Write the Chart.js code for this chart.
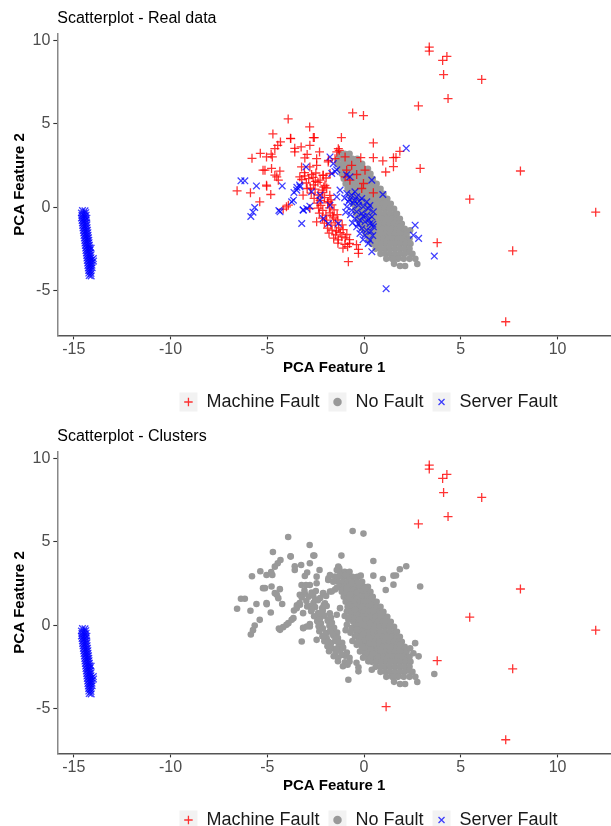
<!DOCTYPE html>
<html>
<head>
<meta charset="utf-8">
<script src="https://cdn.jsdelivr.net/npm/chart.js@4"></script>
<style>
  html, body { margin: 0; padding: 0; background: #fff; }
  body { width: 611px; height: 826px; position: relative; overflow: hidden; }
  canvas { position: absolute; left: 0; }
  #chartReal { top: 0; }
  #chartClusters { top: 418px; }
</style>
</head>
<body>
<canvas id="chartReal" width="611" height="421"></canvas>
<canvas id="chartClusters" width="611" height="421"></canvas>
<script>
// ---- datos (PCA Feature 1, PCA Feature 2) ----
const xTicks = [-15, -10, -5, 0, 5, 10];
const yTicks = [-5, 0, 5, 10];
const legendLabels = ['Machine Fault', 'No Fault', 'Server Fault'];

// fallos de maquina lejanos (rojos en los dos graficos)
const machineOut = [
  [3.37, 9.60], [3.37, 9.36], [4.28, 9.04], [4.06, 8.80], [4.11, 7.95], [6.08, 7.66],
  [4.34, 6.51], [2.81, 6.07], [8.08, 2.17], [5.46, 0.48], [11.97, -0.30], [3.78, -2.13],
  [7.68, -2.62], [7.32, -6.87]
];

// fallos de maquina dispersos cerca del centro
const machineSpread = [
  [-3.92, 5.29], [-2.81, 4.81], [-4.71, 4.39], [-2.57, 4.17], [-3.80, 4.13], [-4.32, 3.91],
  [-4.46, 3.71], [-3.25, 3.61], [-3.58, 3.53], [-2.80, 3.71], [-4.61, 3.51], [-5.36, 3.23],
  [-3.58, 3.31], [-2.94, 3.16], [-2.30, 3.31], [-5.79, 2.93], [-5.04, 3.01], [-4.74, 3.01],
  [-4.80, 3.18], [-3.06, 2.95], [-2.45, 2.91], [-1.85, 2.71], [-1.28, 3.41], [-5.22, 2.22],
  [-4.78, 2.32], [-4.35, 2.16], [-3.23, 2.41], [-2.80, 2.41], [-2.45, 2.51], [-4.61, 1.92],
  [-3.32, 1.82], [-3.06, 1.88], [-2.11, 1.92], [-1.76, 2.02], [-6.56, 0.98], [-5.87, 0.86],
  [-5.04, 1.32], [-4.82, 0.76], [-5.39, 0.32], [-4.01, 0.02], [-4.18, -0.12], [-3.15, 0.72],
  [-2.94, 1.12], [-2.80, -0.08], [-2.45, -0.88], [-0.59, 5.65], [-0.03, 5.49], [-1.17, 4.17],
  [0.48, 3.85], [-1.33, 3.51], [-0.17, 2.97], [0.48, 2.97], [0.97, 2.77], [1.85, 3.35],
  [1.65, 2.98], [1.52, 2.43], [2.90, 2.32], [1.12, 2.11], [-0.64, 2.51], [0.05, 2.22],
  [-0.38, 1.96], [-0.90, 2.22], [-0.98, 1.82], [-0.73, 1.62], [-0.03, 1.42], [-0.12, 1.12],
  [0.48, 0.86], [-1.50, 2.91], [-0.98, 3.01], [-1.84, 2.81], [-1.41, 3.31], [1.52, 2.97],
  [-0.81, -3.27], [-0.29, -2.53], [-0.29, -2.77], [-2.62, 4.17], [-3.79, 4.11], [-5.12, 2.22],
  [-4.43, 1.62], [-4.51, 1.82], [-3.91, 0.12], [-5.03, 1.26]
];

// banda densa de fallos de maquina
const machineBand = [
  [-3.08, 2.07], [-2.71, 1.96], [-2.49, 2.05], [-2.12, 1.91],
  [-3.22, 1.66], [-2.86, 1.71], [-2.63, 1.79], [-2.27, 1.62], [-1.96, 1.75],
  [-2.98, 1.45], [-2.61, 1.34], [-2.38, 1.49], [-2.02, 1.31],
  [-2.77, 1.14], [-2.53, 1.08], [-2.16, 1.02], [-1.93, 1.15],
  [-2.73, 0.84], [-2.37, 0.73], [-2.13, 0.88], [-1.77, 0.71],
  [-2.58, 0.53], [-2.27, 0.41], [-2.04, 0.57], [-1.71, 0.44],
  [-2.42, 0.24], [-2.23, 0.11], [-1.88, 0.26], [-1.66, 0.14],
  [-2.35, -0.06], [-2.13, -0.19], [-1.79, -0.04], [-1.55, -0.16],
  [-2.31, -0.36], [-1.97, -0.48], [-1.75, -0.34], [-1.39, -0.45],
  [-2.15, -0.66], [-1.93, -0.78], [-1.58, -0.64], [-1.35, -0.77],
  [-2.05, -0.96], [-1.71, -1.08], [-1.49, -0.94], [-1.13, -1.06],
  [-1.89, -1.26], [-1.65, -1.38], [-1.31, -1.24], [-1.08, -1.35],
  [-1.81, -1.56], [-1.47, -1.66], [-1.23, -1.53], [-0.89, -1.64],
  [-1.57, -1.86], [-1.33, -1.96], [-0.97, -1.84], [-0.75, -1.95],
  [-1.35, -2.16], [-0.99, -2.23], [-0.75, -2.18], [-0.39, -2.25],
  [-1.09, -2.46], [-0.85, -2.37], [-2.52, 1.55], [-2.08, 1.21], [-1.86, 0.33],
  [-1.64, -0.52], [-1.42, -1.43], [-1.15, -1.78]
];

// fallos de servidor cerca del centro (azules arriba, grises abajo)
const serverSpread = [
  [-6.36, 1.58], [-6.16, 1.58], [-5.56, 1.27], [-4.23, 1.27], [-3.47, 1.19], [-3.62, 0.88],
  [-3.33, 1.32], [-3.74, 0.32], [-5.65, -0.02], [-5.74, -0.30], [-5.85, -0.56], [-4.40, -0.20],
  [-3.15, -0.16], [-2.80, 0.06], [-3.22, -0.98], [-3.00, 2.41], [-1.76, 3.01], [-1.59, 2.61],
  [-1.67, 2.02], [-1.50, 2.14], [-1.41, 2.24], [-0.90, 1.94], [-0.73, 1.82], [0.40, 1.62],
  [0.97, 0.76], [2.18, 3.53], [2.64, -1.08], [2.55, -1.68], [2.82, -1.87], [3.63, -2.93],
  [0.40, -2.67], [0.45, -1.02], [-2.28, 0.42], [-2.11, -0.68], [-1.76, 0.12], [-2.71, 0.92],
  [-1.33, -0.98], [-3.31, 1.22], [-3.48, 1.02], [-3.65, 0.42], [-4.34, -0.28], [-2.96, -0.08],
  [-3.14, -0.18], [-2.27, 0.72], [-1.84, -0.98], [-1.41, 0.62], [-1.24, 1.02]
];

const serverBand = [
  [-0.89, 0.82], [-0.64, 0.72], [-0.38, 0.62], [-0.12, 0.52], [-0.81, 0.32], [-0.55, 0.22],
  [-0.29, 0.12], [-0.04, 0.02], [0.22, -0.08], [-0.64, -0.18], [-0.38, -0.28], [-0.12, -0.38],
  [0.14, -0.48], [0.40, -0.58], [-0.47, -0.68], [-0.21, -0.78], [0.05, -0.88], [0.31, -0.98],
  [-0.38, -1.18], [-0.12, -1.28], [0.14, -1.38], [-0.21, -1.58], [0.05, -1.68], [0.31, -1.98],
  [0.22, -2.17], [-0.47, 0.92], [0.14, 0.32], [0.48, -0.28], [-0.89, 0.02], [0.48, -1.18],
  [-1.00, 0.55], [-0.75, 0.45], [-0.50, 0.40], [-0.25, 0.35], [0.30, 0.10], [-0.95, -0.30],
  [-0.70, -0.45], [-0.05, -0.55], [0.25, -0.75], [-0.60, -0.95], [-0.30, -1.00], [0.35, -1.45],
  [-0.05, -1.95], [0.45, -1.70]
];

// servidor que en el grafico de clusters pasa a maquina
const serverOdd = [[1.14, -4.89]];

// grupo de servidor a la izquierda
const serverLeft = [
  [-14.55, -0.20], [-14.42, -0.22],
  [-14.60, -0.35], [-14.48, -0.37], [-14.38, -0.33],
  [-14.58, -0.50], [-14.46, -0.52], [-14.36, -0.48],
  [-14.60, -0.65], [-14.50, -0.67], [-14.40, -0.63], [-14.32, -0.66],
  [-14.57, -0.80], [-14.47, -0.82], [-14.37, -0.78],
  [-14.55, -0.95], [-14.44, -0.97], [-14.34, -0.93],
  [-14.54, -1.10], [-14.43, -1.12], [-14.33, -1.08],
  [-14.52, -1.25], [-14.41, -1.27], [-14.31, -1.23],
  [-14.50, -1.40], [-14.39, -1.42], [-14.29, -1.38],
  [-14.48, -1.55], [-14.37, -1.57], [-14.27, -1.53],
  [-14.47, -1.70], [-14.36, -1.72], [-14.26, -1.68],
  [-14.45, -1.85], [-14.34, -1.87], [-14.24, -1.83],
  [-14.43, -2.00], [-14.32, -2.02], [-14.22, -1.98],
  [-14.42, -2.15], [-14.31, -2.17], [-14.21, -2.13],
  [-14.40, -2.30], [-14.29, -2.32], [-14.19, -2.28],
  [-14.38, -2.45], [-14.27, -2.47], [-14.17, -2.43], [-14.10, -2.46],
  [-14.37, -2.60], [-14.26, -2.62], [-14.16, -2.58],
  [-14.35, -2.75], [-14.24, -2.77], [-14.14, -2.73],
  [-14.33, -2.90], [-14.22, -2.92], [-14.12, -2.88],
  [-14.32, -3.05], [-14.21, -3.07], [-14.11, -3.03], [-13.99, -3.08],
  [-14.30, -3.20], [-14.19, -3.22], [-14.09, -3.18], [-13.98, -3.23],
  [-14.28, -3.35], [-14.17, -3.37], [-14.07, -3.33],
  [-14.27, -3.50], [-14.16, -3.52], [-14.06, -3.48],
  [-14.25, -3.65], [-14.14, -3.67], [-14.05, -3.63],
  [-14.23, -3.80], [-14.12, -3.82],
  [-14.22, -3.95], [-14.11, -3.97],
  [-14.20, -4.10], [-14.10, -4.12]
];

// sin fallo: nube gris
const noFault = [
  [-1.25, 3.2], [-1.0, 3.2], [-0.75, 3.2],
  [-1.35, 2.9], [-1.1, 2.9], [-0.85, 2.9], [-0.6, 2.9], [-0.35, 2.9],
  [-1.35, 2.6], [-1.1, 2.6], [-0.85, 2.6], [-0.6, 2.6], [-0.35, 2.6], [-0.1, 2.6],
  [-1.25, 2.3], [-1.0, 2.3], [-0.75, 2.3], [-0.5, 2.3], [-0.25, 2.3], [0.0, 2.3], [0.2, 2.3],
  [-1.15, 2.0], [-0.9, 2.0], [-0.65, 2.0], [-0.4, 2.0], [-0.15, 2.0], [0.1, 2.0], [0.33, 2.0],
  [-1.05, 1.7], [-0.8, 1.7], [-0.55, 1.7], [-0.3, 1.7], [-0.05, 1.7], [0.2, 1.7], [0.45, 1.7],
  [-0.95, 1.4], [-0.7, 1.4], [-0.45, 1.4], [-0.2, 1.4], [0.05, 1.4], [0.3, 1.4], [0.55, 1.4], [0.65, 1.4],
  [-0.85, 1.1], [-0.6, 1.1], [-0.35, 1.1], [-0.1, 1.1], [0.15, 1.1], [0.4, 1.1], [0.65, 1.1], [0.85, 1.1],
  [-0.75, 0.8], [-0.5, 0.8], [-0.25, 0.8], [0.0, 0.8], [0.25, 0.8], [0.5, 0.8], [0.75, 0.8], [1.0, 0.8],
  [-0.65, 0.5], [-0.4, 0.5], [-0.15, 0.5], [0.1, 0.5], [0.35, 0.5], [0.6, 0.5], [0.85, 0.5], [1.1, 0.5], [1.2, 0.5],
  [-0.55, 0.2], [-0.3, 0.2], [-0.05, 0.2], [0.2, 0.2], [0.45, 0.2], [0.7, 0.2], [0.95, 0.2], [1.2, 0.2], [1.38, 0.2],
  [-0.45, -0.1], [-0.2, -0.1], [0.05, -0.1], [0.3, -0.1], [0.55, -0.1], [0.8, -0.1], [1.05, -0.1], [1.3, -0.1], [1.55, -0.1],
  [-0.4, -0.4], [-0.15, -0.4], [0.1, -0.4], [0.35, -0.4], [0.6, -0.4], [0.85, -0.4], [1.1, -0.4], [1.35, -0.4], [1.6, -0.4], [1.7, -0.4],
  [-0.3, -0.7], [-0.05, -0.7], [0.2, -0.7], [0.45, -0.7], [0.7, -0.7], [0.95, -0.7], [1.2, -0.7], [1.45, -0.7], [1.7, -0.7], [1.85, -0.7],
  [-0.2, -1.0], [0.05, -1.0], [0.3, -1.0], [0.55, -1.0], [0.8, -1.0], [1.05, -1.0], [1.3, -1.0], [1.55, -1.0], [1.8, -1.0], [1.95, -1.0],
  [-0.05, -1.3], [0.2, -1.3], [0.45, -1.3], [0.7, -1.3], [0.95, -1.3], [1.2, -1.3], [1.45, -1.3], [1.7, -1.3], [1.95, -1.3], [2.1, -1.3],
  [0.1, -1.6], [0.35, -1.6], [0.6, -1.6], [0.85, -1.6], [1.1, -1.6], [1.35, -1.6], [1.6, -1.6], [1.85, -1.6], [2.1, -1.6], [2.2, -1.6],
  [0.25, -1.9], [0.5, -1.9], [0.75, -1.9], [1.0, -1.9], [1.25, -1.9], [1.5, -1.9], [1.75, -1.9], [2.0, -1.9], [2.25, -1.9], [2.35, -1.9],
  [0.4, -2.2], [0.65, -2.2], [0.9, -2.2], [1.15, -2.2], [1.4, -2.2], [1.65, -2.2], [1.9, -2.2], [2.15, -2.2], [2.4, -2.2],
  [0.6, -2.5], [0.85, -2.5], [1.1, -2.5], [1.35, -2.5], [1.6, -2.5], [1.85, -2.5], [2.1, -2.5], [2.35, -2.5],
  [0.85, -2.8], [1.1, -2.8], [1.35, -2.8], [1.6, -2.8], [1.85, -2.8], [2.1, -2.8], [2.34, -2.73], [2.5, -2.8],
  [1.15, -3.1], [1.45, -3.1], [1.75, -3.1], [2.05, -3.1], [2.35, -3.1], [2.65, -3.1],
  [1.52, -3.13], [1.55, -3.4], [1.86, -3.53], [2.12, -3.53], [2.75, -3.41],
  [1.86, -1.18], [2.38, -1.38]
];

// ---- estilos ----
Chart.defaults.font.family = "'Liberation Sans', Arial, sans-serif";

const redPlus = {
  pointStyle: 'cross', pointRadius: 4.5, pointBorderWidth: 1.3,
  borderColor: 'rgba(255,0,0,0.8)', backgroundColor: 'rgba(255,0,0,0.8)'
};
const blueX = {
  pointStyle: 'crossRot', pointRadius: 4.7, pointBorderWidth: 1.3,
  borderColor: 'rgba(0,0,255,0.75)', backgroundColor: 'rgba(0,0,255,0.75)'
};
const greyDot = {
  pointStyle: 'circle', pointRadius: 3.3, pointBorderWidth: 0,
  borderColor: '#999999', backgroundColor: '#999999'
};

function scatterSet(label, pairs, style) {
  return Object.assign({
    label: label,
    data: pairs.map(p => ({ x: p[0], y: p[1] }))
  }, style);
}

// fondo gris de las claves de la leyenda y centrado como en ggplot
const legendKeys = {
  id: 'legendKeys',
  afterLayout(chart) {
    chart.legend.left += 63;
    chart.legend.right += 63;
  },
  beforeDraw(chart) {
    const ctx = chart.ctx;
    ctx.save();
    ctx.fillStyle = '#F2F2F2';
    chart.legend.legendHitBoxes.forEach(h => {
      ctx.fillRect(h.left, h.top - 0.5, 18, 19);
    });
    ctx.restore();
  }
};

function makeChart(id, title, datasets) {
  const ctx = document.getElementById(id).getContext('2d');
  return new Chart(ctx, {
    type: 'scatter',
    data: { datasets: datasets },
    plugins: [legendKeys],
    options: {
      responsive: false,
      animation: false,
      devicePixelRatio: 1,
      events: [],
      layout: { autoPadding: false, padding: 0 },
      scales: {
        x: {
          type: 'linear', position: 'bottom', min: -15.85, max: 12.76,
          afterBuildTicks: s => { s.ticks = xTicks.map(v => ({ value: v })); },
          afterFit: s => { s.height = 48.6; },
          grid: { drawOnChartArea: false, drawTicks: true, tickLength: 4, tickColor: '#333333', tickWidth: 1.1 },
          border: { display: true, color: '#555555', width: 1.5 },
          ticks: { color: '#4D4D4D', font: { size: 16 }, padding: 1, maxRotation: 0, autoSkip: false },
          title: { display: true, text: 'PCA Feature 1', color: '#000', font: { size: 15, weight: 'bold' }, padding: { top: 0, bottom: 7 } }
        },
        y: {
          type: 'linear', position: 'left', min: -7.69, max: 10.42,
          afterBuildTicks: s => { s.ticks = yTicks.map(v => ({ value: v })); },
          afterFit: s => { s.width = 57.3; },
          grid: { drawOnChartArea: false, drawTicks: true, tickLength: 4, tickColor: '#333333', tickWidth: 1.1 },
          border: { display: true, color: '#888888', width: 1.5 },
          ticks: { color: '#4D4D4D', font: { size: 16 }, padding: 3, autoSkip: false },
          title: { display: true, text: 'PCA Feature 2', color: '#000', font: { size: 15, weight: 'bold' }, padding: { top: 11, bottom: 0 } }
        }
      },
      plugins: {
        tooltip: { enabled: false },
        title: {
          display: true, text: title, align: 'start', fullSize: false, color: '#000',
          font: { size: 16, weight: 'normal' }, padding: { top: 9.4, bottom: 4.8 }
        },
        legend: {
          position: 'bottom', align: 'center',
          labels: {
            usePointStyle: true, boxWidth: 18, boxHeight: 6, padding: 9,
            color: '#1a1a1a', font: { size: 18 },
            filter: item => legendLabels.includes(item.text),
            sort: (a, b) => legendLabels.indexOf(a.text) - legendLabels.indexOf(b.text)
          }
        }
      }
    }
  });
}

// grafico 1: datos reales (el indice 0 se dibuja encima)
makeChart('chartReal', 'Scatterplot - Real data', [
  scatterSet('Server Fault', serverBand, blueX),
  scatterSet('', serverSpread, blueX),
  scatterSet('', serverLeft, blueX),
  scatterSet('', serverOdd, blueX),
  scatterSet('Machine Fault', machineOut, redPlus),
  scatterSet('', machineSpread, redPlus),
  scatterSet('', machineBand, redPlus),
  scatterSet('No Fault', noFault, greyDot)
]);

// grafico 2: clusters
makeChart('chartClusters', 'Scatterplot - Clusters', [
  scatterSet('Machine Fault', machineOut.concat(serverOdd), redPlus),
  scatterSet('Server Fault', serverLeft, blueX),
  scatterSet('No Fault', noFault.concat(machineSpread, machineBand, serverSpread, serverBand), greyDot)
]);
</script>
</body>
</html>
